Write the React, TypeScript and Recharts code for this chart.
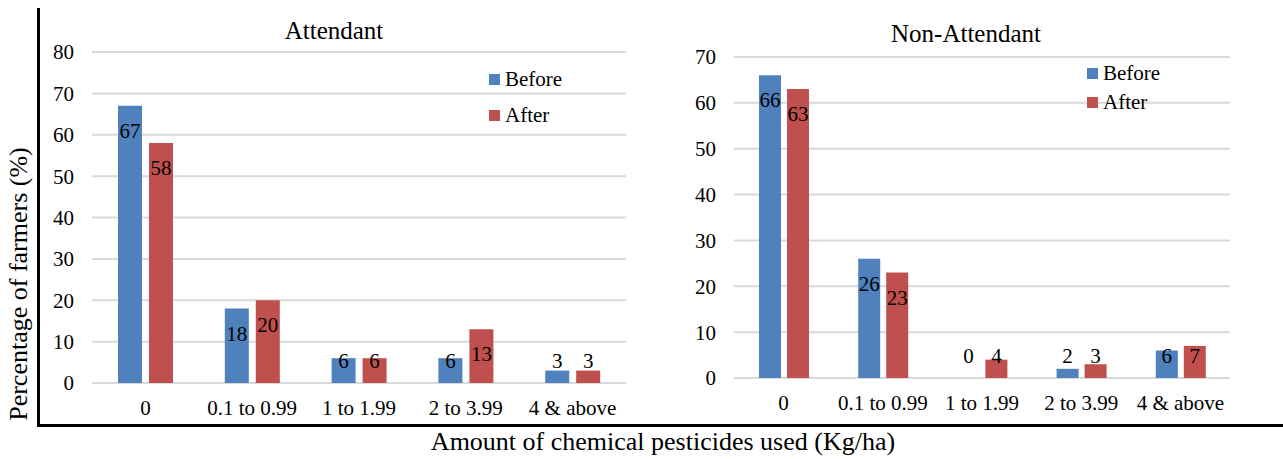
import React from 'react';
import { BarChart, Bar, XAxis, YAxis, CartesianGrid, LabelList } from 'recharts';

const categories = ['0', '0.1 to 0.99', '1 to 1.99', '2 to 3.99', '4 & above'];
const attendantBefore = [67, 18, 6, 6, 3];
const attendantAfter = [58, 20, 6, 13, 3];
const nonAttendantBefore = [66, 26, 0, 2, 6];
const nonAttendantAfter = [63, 23, 4, 3, 7];
const attendantTicks = [0, 10, 20, 30, 40, 50, 60, 70, 80];
const nonAttendantTicks = [0, 10, 20, 30, 40, 50, 60, 70];
const seriesNames = ['Before', 'After'];

const BLUE = '#4F81BD';
const RED = '#C0504D';
const FONT = '"Liberation Serif", "Times New Roman", serif';

const buildRows = (before: number[], after: number[]) =>
  categories.map((name, i) => ({ name, before: before[i], after: after[i] }));

// Excel-like "inside end" label: below the bar top, but never lower than just above the axis
const barLabel = (props: any) => {
  const { x, y, width, height, value } = props;
  const base = y + height;
  const cy = Math.min(y + 25, base - 22);
  return (
    <text
      x={x + width / 2}
      y={cy}
      textAnchor="middle"
      dominantBaseline="central"
      fontSize={21}
      fontFamily={FONT}
      fill="#000"
    >
      {String(value)}
    </text>
  );
};

function LegendBox({ left, top, gap }: { left: number; top: number; gap: number }) {
  const colors = [BLUE, RED];
  return (
    <div style={{ position: 'absolute', left, top, fontFamily: FONT, fontSize: 21, color: '#000', lineHeight: 1 }}>
      {seriesNames.map((name, i) => (
        <div key={name} style={{ display: 'flex', alignItems: 'center', height: 22, marginTop: i === 0 ? 0 : gap }}>
          <span style={{ display: 'inline-block', width: 11, height: 11, background: colors[i], marginRight: 5 }} />
          <span>{name}</span>
        </div>
      ))}
    </div>
  );
}

interface PanelProps {
  rows: { name: string; before: number; after: number }[];
  ticks: number[];
  max: number;
  width: number;
  height: number;
  margin: { top: number; right: number; left: number; bottom: number };
  yWidth: number;
  xHeight: number;
  barSize: number;
  barGap: number;
}

function Panel(p: PanelProps) {
  const tickStyle = { fontSize: 21, fill: '#000', fontFamily: FONT };
  return (
    <BarChart
      width={p.width}
      height={p.height}
      data={p.rows}
      margin={p.margin}
      barSize={p.barSize}
      barGap={p.barGap}
    >
      <CartesianGrid vertical={false} stroke="#D9D9D9" strokeWidth={2} />
      <XAxis
        dataKey="name"
        axisLine={false}
        tickLine={false}
        tick={tickStyle}
        tickMargin={11}
        height={p.xHeight}
        interval={0}
      />
      <YAxis
        domain={[0, p.max]}
        ticks={p.ticks}
        axisLine={false}
        tickLine={false}
        tick={tickStyle}
        tickMargin={12}
        width={p.yWidth}
        interval={0}
      />
      <Bar dataKey="before" name="Before" fill={BLUE} minPointSize={0.01} isAnimationActive={false}>
        <LabelList dataKey="before" content={barLabel} />
      </Bar>
      <Bar dataKey="after" name="After" fill={RED} minPointSize={0.01} isAnimationActive={false}>
        <LabelList dataKey="after" content={barLabel} />
      </Bar>
    </BarChart>
  );
}

export default function App() {
  const textBase: React.CSSProperties = {
    position: 'absolute',
    fontFamily: FONT,
    color: '#000',
    whiteSpace: 'nowrap',
    lineHeight: 1,
  };
  return (
    <div style={{ position: 'absolute', left: 0, top: 0, width: 1283, height: 459, background: '#fff', overflow: 'hidden' }}>
      {/* frame */}
      <div style={{ position: 'absolute', left: 37, top: 8, width: 3, height: 419, background: '#000' }} />
      <div style={{ position: 'absolute', left: 37, top: 424, width: 1246, height: 3, background: '#000' }} />

      <div style={{ position: 'absolute', left: 40, top: 0 }}>
        <Panel
          rows={buildRows(attendantBefore, attendantAfter)}
          ticks={attendantTicks}
          max={80}
          width={600}
          height={420}
          margin={{ top: 52, right: 14, left: 0, bottom: 0 }}
          yWidth={52}
          xHeight={37}
          barSize={24}
          barGap={7}
        />
      </div>

      <div style={{ position: 'absolute', left: 680, top: 0 }}>
        <Panel
          rows={buildRows(nonAttendantBefore, nonAttendantAfter)}
          ticks={nonAttendantTicks}
          max={70}
          width={603}
          height={420}
          margin={{ top: 57, right: 53, left: 0, bottom: 0 }}
          yWidth={54}
          xHeight={42}
          barSize={22}
          barGap={6}
        />
      </div>

      <LegendBox left={489} top={68} gap={14} />
      <LegendBox left={1087} top={62} gap={7} />

      <div style={{ ...textBase, left: 334, top: 30, fontSize: 25, transform: 'translate(-50%, -50%)' }}>Attendant</div>
      <div style={{ ...textBase, left: 966, top: 33, fontSize: 25, transform: 'translate(-50%, -50%)' }}>Non-Attendant</div>
      <div style={{ ...textBase, left: 19, top: 284, fontSize: 26, transform: 'translate(-50%, -50%) rotate(-90deg)' }}>
        Percentage of farmers (%)
      </div>
      <div style={{ ...textBase, left: 663, top: 442, fontSize: 26, transform: 'translate(-50%, -50%)' }}>
        Amount of chemical pesticides used (Kg/ha)
      </div>
    </div>
  );
}
